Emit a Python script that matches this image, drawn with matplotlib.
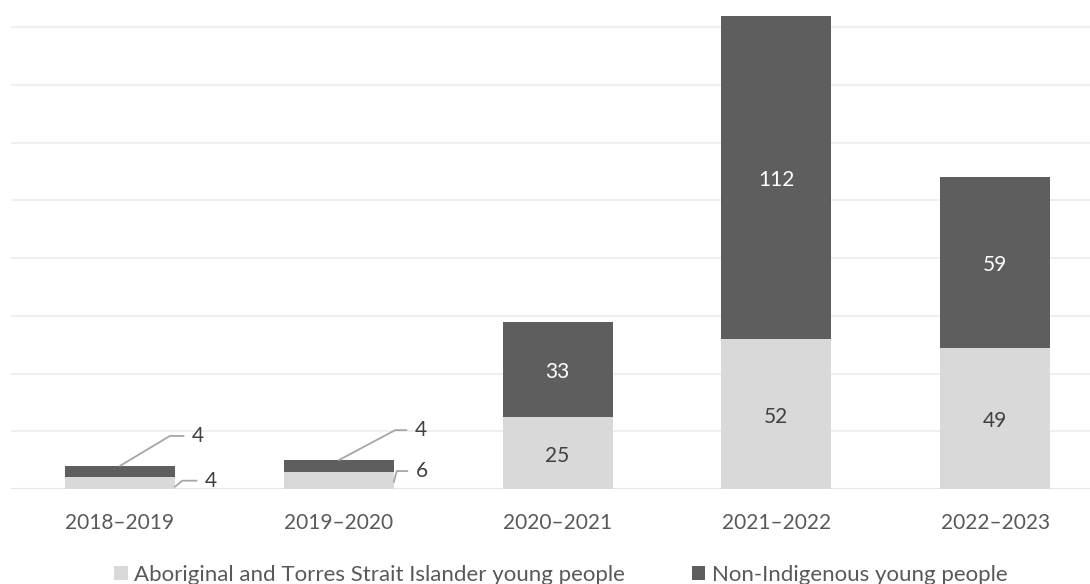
import matplotlib.pyplot as plt
import numpy as np

plt.rcParams['font.family'] = ['Lato', 'DejaVu Sans']

# Data
years = ['2018–2019', '2019–2020', '2020–2021', '2021–2022', '2022–2023']
aboriginal = [4, 6, 25, 52, 49]
non_indigenous = [4, 4, 33, 112, 59]
series_names = ['Aboriginal and Torres Strait Islander young people',
                'Non-Indigenous young people']

light = '#d9d9d9'
dark = '#5e5e5e'
text_col = '#595959'

fig = plt.figure(figsize=(10.9, 5.84), dpi=100)
ax = fig.add_axes([10.6 / 1090, 1 - 489 / 584, 1094 / 1090, 489 / 584])

x = np.arange(len(years))
w = 0.503
b1 = ax.bar(x, aboriginal, w, color=light, label=series_names[0], zorder=2)
b2 = ax.bar(x, non_indigenous, w, bottom=aboriginal, color=dark,
            label=series_names[1], zorder=2)

ax.set_xlim(-0.5, len(years) - 0.5)
ax.set_ylim(0, 169.4)
ax.set_yticks(np.arange(20, 161, 20))
ax.yaxis.grid(True, color='#efefef', lw=1.5, zorder=0)
ax.axhline(0, color='#e6e6e6', lw=1.5, zorder=1)
for s in ax.spines.values():
    s.set_visible(False)
ax.tick_params(left=False, labelleft=False, bottom=False)
ax.set_xticks(x)
ax.set_xticklabels(years, fontsize=15, color=text_col)
ax.tick_params(axis='x', pad=14)

# labels inside bars (big ones)
for i in range(len(years)):
    a, n = aboriginal[i], non_indigenous[i]
    if a >= 10:
        ax.annotate(str(a), (i, a / 2), xytext=(0, -3), textcoords='offset pixels',
                    ha='center', va='center', fontsize=15, color='#404040', zorder=3)
    if n >= 10:
        ax.annotate(str(n), (i, a + n / 2), xytext=(0, -3), textcoords='offset pixels',
                    ha='center', va='center', fontsize=15, color='white', zorder=3)

# small bars: labels outside with leader lines
line_kw = dict(arrowstyle='-', color='#a6a6a6', lw=1.3, shrinkA=4, shrinkB=0)


def leader(xy, off, txt, angle):
    ax.annotate(txt, xy=xy, xytext=off, textcoords='offset pixels',
                fontsize=15, color='#404040', ha='left', va='center',
                arrowprops=dict(connectionstyle='angle,angleA=0,angleB=%d,rad=0' % angle,
                                **line_kw))


leader((0, aboriginal[0] + non_indigenous[0]), (72, 30), str(non_indigenous[0]), 31)
leader((w / 2, 0.8), (30, 6), str(aboriginal[0]), 40)
leader((1, aboriginal[1] + non_indigenous[1]), (76, 30), str(non_indigenous[1]), 28)
leader((1 + w / 2, 2.4), (22, 11), str(aboriginal[1]), 75)

fig.legend(handles=[b1, b2], labels=series_names, loc='center',
           bbox_to_anchor=(561 / 1090, 1 - 575 / 584), ncol=2, frameon=False,
           fontsize=16, handlelength=0.6, handleheight=0.6, handletextpad=0.3,
           columnspacing=3.0, labelcolor=text_col, borderpad=0)

fig.savefig('out.png', dpi=100)
